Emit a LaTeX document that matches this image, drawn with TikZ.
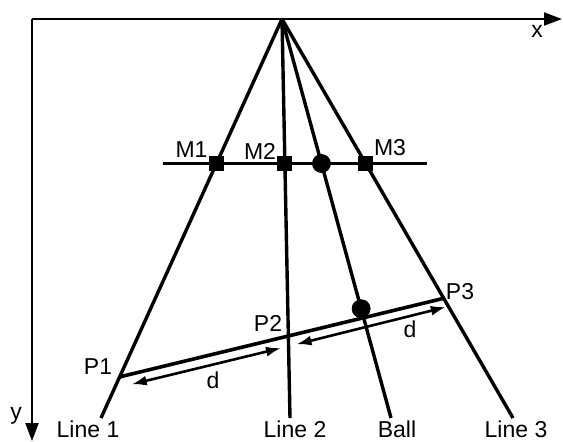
\documentclass[tikz,border=0pt]{standalone}
\usepackage{fontspec}
\setmainfont{Liberation Sans}
\usetikzlibrary{arrows.meta,positioning,calc}

\begin{document}
\begin{tikzpicture}[
    x=0.5pt, y=-0.5pt,
    font=\fontsize{11.5}{13}\selectfont,
    axis/.style={line width=1pt, -{Triangle[length=9pt, width=6.5pt]}},
    ray/.style={line width=1.7pt},
    sqmark/.style={draw, fill=black, rectangle, minimum size=7pt, inner sep=0pt},
    ballmark/.style={draw, fill=black, circle, minimum size=9pt, inner sep=0pt},
    lbl/.style={inner sep=0pt},
    darr/.style={{Latex[length=7.5pt,width=5pt]}-{Latex[length=7.5pt,width=5pt]}, line width=1.3pt}
]
\useasboundingbox (0,0) rectangle (563,441);

% axes
\coordinate (O) at (32,19);
\coordinate (xend) at (562,19);
\coordinate (yend) at (32,441);
\draw[axis] (O) -- (xend);
\draw[axis] (O) -- (yend);
\node[lbl] (xlab) at (537,31) {x};
\node[lbl] (ylab) at (16,416) {y};

% rays from the apex
\coordinate (apex) at (282,19);
\coordinate (end1) at (101,418);
\coordinate (end2) at (290,418);
\coordinate (endB) at (391,418);
\coordinate (end3) at (513,418);
\draw[ray] (apex) -- (end1);
\draw[ray] (apex) -- (end2);
\draw[ray] (apex) -- (endB);
\draw[ray] (apex) -- (end3);

% measuring line
\coordinate (mleft) at (163,163.5);
\coordinate (mright) at (427,163.5);
\draw[ray, line width=1.5pt] (mleft) -- (mright);
\node[sqmark] (M1) at (intersection of apex--end1 and mleft--mright) {};
\node[sqmark] (M2) at (intersection of apex--end2 and mleft--mright) {};
\node[ballmark] (ballM) at (intersection of apex--endB and mleft--mright) {};
\node[sqmark] (M3) at (intersection of apex--end3 and mleft--mright) {};
\node[lbl] (labM1) at (191.5,150) {M1};
\node[lbl] (labM2) at (260,151) {M2};
\node[lbl] (labM3) at (390,148) {M3};

% line through P1, P2, P3
\coordinate (P1) at ($(apex)!0.897!(end1)$);
\coordinate (P3) at ($(apex)!0.70!(end3)$);
\coordinate (P2) at (intersection of P1--P3 and apex--end2);
\draw[ray, line width=1.8pt] (P1) -- (P3);
\node[ballmark] (ballP) at ($(apex)!0.726!(endB)$) {};
\node[lbl] (labP1) at (98,367) {P1};
\node[lbl] (labP2) at (268,323) {P2};
\node[lbl] (labP3) at (460,292) {P3};

% distances
\draw[darr, shorten <=5pt, shorten >=5pt] ($(P1)!5pt!-90:(P2)$) -- ($(P2)!5pt!90:(P1)$);
\draw[darr, shorten <=3pt] ($(P2)!5pt!-90:(P3)$) -- ($(P3)!4.5pt!90:(P2)$);
\node[lbl] (d1) at (213,380) {d};
\node[lbl] (d2) at (410,329) {d};

% bottom labels
\node[lbl] (lab1) at (88,429) {Line 1};
\node[lbl] (lab2) at (295,429) {Line 2};
\node[lbl] (labB) at (397,429) {Ball};
\node[lbl] (lab3) at (516,429) {Line 3};
\end{tikzpicture}
\end{document}
